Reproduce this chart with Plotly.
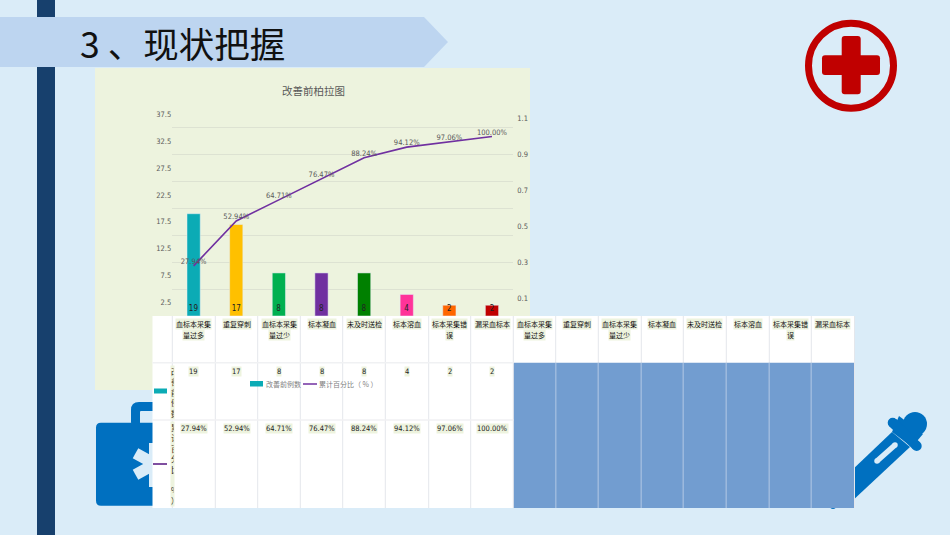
import math
import plotly.graph_objects as go

W, H = 950, 535

# chart data
categories = ['血标本采集量过多', '重复穿刺', '血标本采集量过少', '标本凝血', '未及时送检', '标本溶血', '标本采集错误', '漏采血标本']
header_lines = [['血标本采集', '量过多'], ['重复穿刺'], ['血标本采集', '量过少'], ['标本凝血'], ['未及时送检'], ['标本溶血'], ['标本采集错', '误'], ['漏采血标本']]
counts = [19, 17, 8, 8, 8, 4, 2, 2]
cumulative = [0.2794, 0.5294, 0.6471, 0.7647, 0.8824, 0.9412, 0.9706, 1.0]
cumulative_labels = ['27.94%', '52.94%', '64.71%', '76.47%', '88.24%', '94.12%', '97.06%', '100.00%']
bar_colors = ['#0BABB5', '#FFC000', '#00B050', '#7030A0', '#008000', '#FF3399', '#FF6600', '#C00000']
left_ticks = [2.5, 7.5, 12.5, 17.5, 22.5, 27.5, 32.5, 37.5]
right_ticks = [0.1, 0.3, 0.5, 0.7, 0.9, 1.1]
bar_name = '改善前例数'
line_name = '累计百分比（ % ）'

FONT = 'DejaVu Sans Condensed, Noto Sans CJK SC'
CJK = 'Noto Sans CJK SC'
BG = '#DAECF8'
CHART_BG = '#EDF3DE'
BLUE = '#0070C0'
CELL_BLUE = '#729DD0'
RED = '#C00000'
TEAL = '#0BABB5'
PURPLE = '#7030A0'

col_x = [172.3, 215.3, 257.7, 300.3, 342.7, 385.3, 428.7, 470.7, 513.3,
         555.7, 598.3, 641.3, 683.3, 726.3, 769.3, 811.3, 854.5]


def px(x):
    return x / W


def py(y):
    return 1 - y / H


def rect(x0, y0, x1, y1, color):
    return dict(type='rect', xref='paper', yref='paper', x0=px(x0), x1=px(x1), y0=py(y0), y1=py(y1),
                fillcolor=color, line_width=0, layer='below')


def poly(points, color):
    path = 'M ' + ' L '.join(f'{px(a):.5f} {py(b):.5f}' for a, b in points) + ' Z'
    return dict(type='path', xref='paper', yref='paper', path=path, fillcolor=color, line_width=0, layer='below')


def round_rect(x0, y0, x1, y1, r, color):
    p = lambda a, b: f'{px(a):.5f} {py(b):.5f}'
    path = (f'M {p(x0 + r, y0)} L {p(x1 - r, y0)} Q {p(x1, y0)} {p(x1, y0 + r)} L {p(x1, y1 - r)} '
            f'Q {p(x1, y1)} {p(x1 - r, y1)} L {p(x0 + r, y1)} Q {p(x0, y1)} {p(x0, y1 - r)} '
            f'L {p(x0, y0 + r)} Q {p(x0, y0)} {p(x0 + r, y0)} Z')
    return dict(type='path', xref='paper', yref='paper', path=path, fillcolor=color, line_width=0, layer='below')


def circle(cx, cy, r, color, line=None, lw=0):
    return dict(type='circle', xref='paper', yref='paper', x0=px(cx - r), x1=px(cx + r), y0=py(cy + r), y1=py(cy - r),
                fillcolor=color, line=dict(color=line or color, width=lw), layer='below')


def bar_between(x0, y0, x1, y1, width, color, rounded=True):
    # thick segment between two points, with round ends
    n = math.hypot(x1 - x0, y1 - y0)
    dx, dy = (y1 - y0) / n * width / 2, -(x1 - x0) / n * width / 2
    out = [poly([(x0 + dx, y0 + dy), (x1 + dx, y1 + dy), (x1 - dx, y1 - dy), (x0 - dx, y0 - dy)], color)]
    if rounded:
        out += [circle(x0, y0, width / 2, color), circle(x1, y1, width / 2, color)]
    return out


def vline(x, y0, y1, color, w=1):
    return dict(type='line', xref='paper', yref='paper', x0=px(x), x1=px(x), y0=py(y0), y1=py(y1),
                line=dict(color=color, width=w), layer='below')


def hline(y, x0, x1, color, w=1):
    return dict(type='line', xref='paper', yref='paper', x0=px(x0), x1=px(x1), y0=py(y), y1=py(y),
                line=dict(color=color, width=w), layer='below')


def label(x, y, text, size=7.5, color='#222222', bg=CHART_BG, font=FONT, anchor='center', **kw):
    return dict(xref='paper', yref='paper', x=px(x), y=py(y), text=text, showarrow=False, xanchor=anchor,
                yanchor='middle', font=dict(family=font, size=size, color=color), bgcolor=bg, borderpad=0, **kw)


shapes = [
    rect(37, 0, 55, 535, '#17406D'),
    poly([(0, 17), (424, 17), (448, 42), (424, 67), (0, 67)], '#BDD5F0'),
    rect(95, 68, 530, 390, CHART_BG),
    # red cross badge
    circle(851, 65.7, 42.5, 'rgba(0,0,0,0)', line=RED, lw=7),
    round_rect(841.7, 36, 860.7, 94.3, 3, RED),
    round_rect(822, 55.3, 880, 75, 3, RED),
    # medical kit
    round_rect(131, 402, 170, 430, 8, BLUE),
    round_rect(140, 411, 170, 430, 1, BG),
    round_rect(96, 422.7, 170, 505.7, 5, BLUE),
]
# kit asterisk
star_x, star_y = 155, 464
shapes += bar_between(star_x, 443, star_x, 487, 12, BG, rounded=False)
shapes += bar_between(star_x, star_y, 135.5, 453.3, 11.5, BG, rounded=False)
shapes += bar_between(star_x, star_y, 135.5, 474.7, 11.5, BG, rounded=False)
# dropper
shapes.append(poly([(850, 472), (892, 432), (910, 447), (850, 503)], BLUE))
shapes.append(circle(915, 424, 12, BLUE))
shapes.append(poly([(899, 416), (923, 434), (912, 447), (892, 432)], BLUE))
shapes += bar_between(892.7, 422.7, 916.7, 446, 10, BLUE)
shapes += bar_between(895, 445, 877, 461, 5.5, BG)
shapes.append(circle(833, 506, 3, BLUE))
# table
shapes += [
    rect(152.5, 316, 854.5, 508, 'white'),
    rect(513.3, 362.7, 854.5, 508, CELL_BLUE),
    rect(154, 388.5, 167, 393.5, TEAL),
    rect(153, 463, 167, 465, '#7F4FA0'),
]
for x in col_x:
    shapes.append(vline(x, 316, 508, '#E4E7EC'))
for x in col_x[9:-1]:
    shapes.append(vline(x, 362.7, 508, '#8FB2DC'))
shapes.append(hline(362.7, 152.5, 513.3, '#F0F1F3', 1.5))
shapes.append(hline(420, 152.5, 513.3, '#F0F1F3', 1.5))
# legend keys inside the table
shapes.append(rect(250, 381, 263, 386.5, TEAL))
shapes.append(hline(384, 303, 317, PURPLE, 1.5))

annotations = [
    label(78.5, 43, '3 、现状把握', size=35.5, color='#111111', bg='rgba(0,0,0,0)', font=CJK, anchor='left'),
    label(313, 90.5, '改善前柏拉图', size=10.5, color='#595959', bg='rgba(0,0,0,0)', font=CJK),
    label(265, 384, bar_name, size=7, color='#7F7F7F', bg='rgba(0,0,0,0)', font=CJK, anchor='left'),
    label(318, 384, line_name, size=7, color='#7F7F7F', bg='rgba(0,0,0,0)', font=CJK, anchor='left'),
    # row headers squeezed into the narrow first column
    label(170, 392, '<br>'.join(bar_name), size=8, font=CJK, anchor='left', width=2.6, align='left'),
    label(170, 464, '<br>'.join('累计百分比（%）'), size=8, font=CJK, anchor='left', width=2.6, align='left'),
]
for i, lines in enumerate(header_lines):
    centers = [(col_x[i] + col_x[i + 1]) / 2, (col_x[i + 8] + col_x[i + 9]) / 2]
    for cx in centers:
        for j, line in enumerate(lines):
            annotations.append(label(cx, 324 + j * 10.7, line, size=7, color='#111111', font=CJK))
    annotations.append(label(centers[0], 371, str(counts[i])))
    annotations.append(label(centers[0], 428, cumulative_labels[i]))

fig = go.Figure()
fig.add_trace(go.Bar(x=categories, y=counts, name=bar_name, width=0.31, marker=dict(color=bar_colors),
                     text=counts, textposition='inside', insidetextanchor='start', textangle=0,
                     constraintext='none', textfont=dict(family=FONT, size=8, color='#222222')))
fig.add_trace(go.Scatter(x=categories, y=cumulative, name=line_name, yaxis='y2', mode='lines+text',
                         line=dict(color=PURPLE, width=1.6), text=cumulative_labels, textposition='top center',
                         textfont=dict(family=FONT, size=7.5, color='#595959'), cliponaxis=False))

fig.update_layout(
    width=W, height=H, autosize=False,
    margin=dict(l=0, r=0, t=0, b=0),
    paper_bgcolor=BG, plot_bgcolor='rgba(0,0,0,0)',
    showlegend=False,
    shapes=shapes, annotations=annotations,
    font=dict(family=FONT, size=7.5, color='#595959'),
    xaxis=dict(domain=[px(172.3), px(513.3)], type='category', showticklabels=False, showgrid=False, zeroline=False,
               showline=False, ticks='', range=[-0.5, 7.5]),
    yaxis=dict(domain=[py(316), py(100.7)], range=[0, 40], tickvals=left_ticks, ticktext=[str(v) for v in left_ticks],
               showgrid=False, zeroline=False, showline=False, ticks='', anchor='x',
               minor=dict(dtick=5, showgrid=True, gridcolor='#DDE2D2', gridwidth=1, ticks='')),
    yaxis2=dict(domain=[py(316), py(100.7)], range=[0, 1.2], overlaying='y', side='right', tickvals=right_ticks,
                ticktext=[str(v) for v in right_ticks], showgrid=False, zeroline=False, showline=False, ticks='',
                anchor='x', ticklabelstandoff=3),
)

fig.write_html("out.html", config=dict(displayModeBar=False),
               post_script="document.body.style.margin='0';document.body.style.overflow='hidden';")
